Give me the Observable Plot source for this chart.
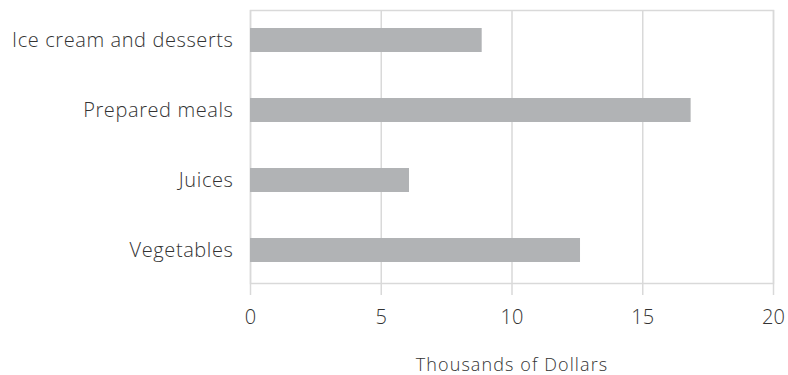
<!DOCTYPE html>
<html>
<head>
<meta charset="utf-8">
<script src="https://cdn.jsdelivr.net/npm/d3@7"></script>
<script src="https://cdn.jsdelivr.net/npm/@observablehq/plot@0.6"></script>
<style>
  html, body { margin: 0; padding: 0; background: #fff; }
  #chart svg { display: block; }
  #chart g[aria-label="y-axis tick label"] text { letter-spacing: 0.6px; }
  #chart g[aria-label="x-axis label"] text { letter-spacing: 1.1px; }
</style>
</head>
<body>
<div id="chart"></div>
<script>
const categories = ["Ice cream and desserts", "Prepared meals", "Juices", "Vegetables"];
const values = [8.86, 16.85, 6.08, 12.62];
const xTicks = [0, 5, 10, 15, 20];
const axisTitle = "Thousands of Dollars";

const data = categories.map((c, i) => ({category: c, value: values[i]}));

const chart = Plot.plot({
  width: 788,
  height: 375,
  marginLeft: 250,
  marginRight: 15,
  marginTop: 3,
  marginBottom: 89,
  style: {fontFamily: "'Open Sans', sans-serif", fontSize: "20px", fontWeight: 300, color: "#333", background: "#fff"},
  x: {domain: [0, 20], ticks: xTicks, label: axisTitle},
  y: {domain: categories, paddingInner: 0.66, paddingOuter: 0.33, label: null},
  marks: [
    Plot.ruleX(xTicks, {stroke: "#d9d9d9", strokeWidth: 1.5, strokeOpacity: 1, insetTop: 7, insetBottom: -9}),
    Plot.frame({stroke: "#d9d9d9", strokeWidth: 1.5, insetTop: 7, insetBottom: 3}),
    Plot.barX(data, {x: "value", y: "category", fill: "#b1b3b5"}),
    Plot.axisY({tickSize: 0, tickPadding: 17, label: null, fontSize: 20, fill: "#333"}),
    Plot.axisX({ticks: xTicks, tickSize: 0, tickPadding: 23, tickFormat: d => String(d), label: null, fontSize: 20, fill: "#333"}),
    Plot.axisX({ticks: [], tickSize: 0, label: axisTitle, labelAnchor: "center", labelArrow: "none", labelOffset: 84, fontSize: 18, fill: "#333"})
  ]
});
document.getElementById("chart").appendChild(chart);
</script>
</body>
</html>
